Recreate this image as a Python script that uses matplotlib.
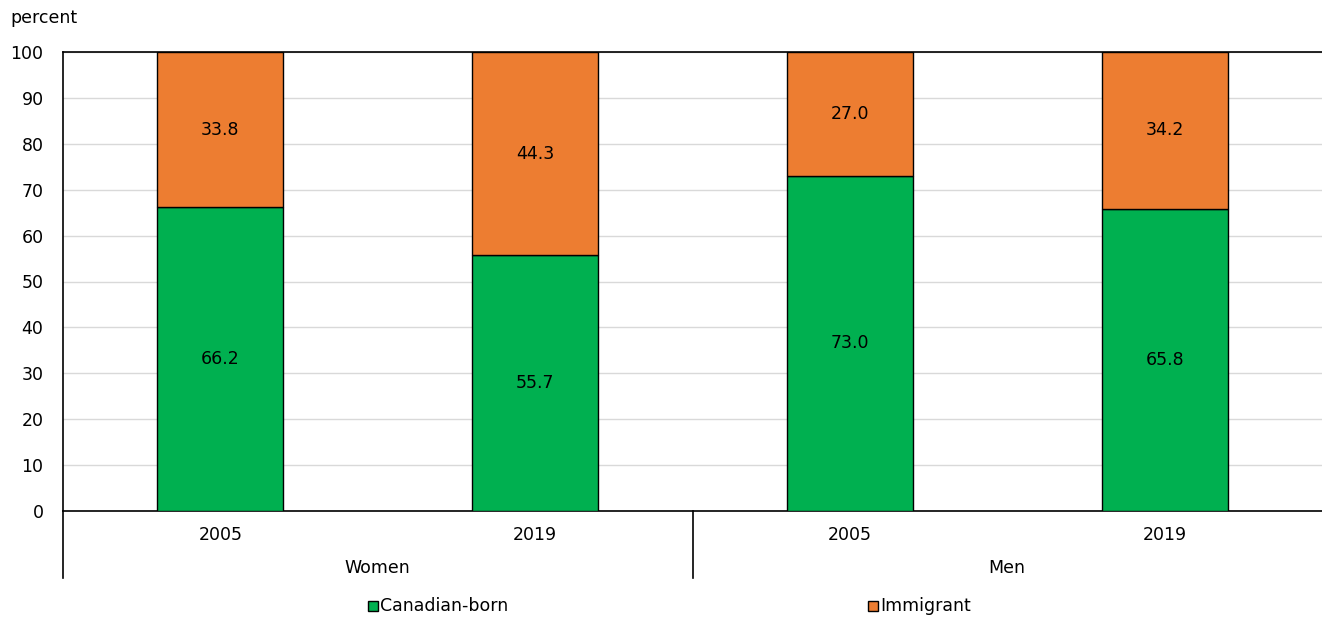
import matplotlib.pyplot as plt
from matplotlib.patches import Rectangle

plt.rcParams['font.family'] = ['DejaVu Sans']

groups = ['Women', 'Men']
years = ['2005', '2019', '2005', '2019']
canadian_born = [66.2, 55.7, 73.0, 65.8]
immigrant = [33.8, 44.3, 27.0, 34.2]

green = '#00b050'
orange = '#ed7d31'
fs = 12.5

fig = plt.figure(figsize=(13.22, 6.17), dpi=100)
ax = fig.add_axes([63 / 1322, 1 - 511 / 617, (1322 - 63) / 1322, (511 - 52) / 617])

x = range(len(years))
ax.bar(x, canadian_born, width=0.4, color=green, edgecolor='black', linewidth=1, zorder=3)
ax.bar(x, immigrant, width=0.4, bottom=canadian_born, color=orange,
       edgecolor='black', linewidth=1, zorder=3)

for i in x:
    ax.text(i, canadian_born[i] / 2, f'{canadian_born[i]:.1f}', ha='center', va='center',
            fontsize=fs, zorder=4)
    ax.text(i, canadian_born[i] + immigrant[i] / 2, f'{immigrant[i]:.1f}', ha='center',
            va='center', fontsize=fs, zorder=4)

ax.set_xlim(-0.5, len(years) - 0.5)
ax.set_ylim(0, 100)
ax.set_yticks(range(0, 101, 10))
ax.tick_params(axis='y', length=0, labelsize=fs, pad=14)
ax.tick_params(axis='x', length=0, labelsize=fs, pad=11)
ax.set_xticks(list(x))
ax.set_xticklabels(years)
ax.grid(axis='y', color='#d9d9d9', linewidth=1, zorder=0)

ax.spines['right'].set_visible(False)
for side in ['top', 'bottom', 'left']:
    ax.spines[side].set_color('black')
    ax.spines[side].set_linewidth(1.2)

# group separators and labels below the year ticks
trans = ax.get_xaxis_transform()
for xs in [-0.5, 1.5]:
    ax.plot([xs, xs], [0, -0.146], transform=trans, color='black', lw=1.2, clip_on=False)
for gi, g in enumerate(groups):
    ax.text(gi * 2 + 0.5, -0.124, g, transform=trans, ha='center', va='center', fontsize=fs)

fig.text(10 / 1322, 1 - 18 / 617, 'percent', ha='left', va='center', fontsize=fs)

# legend
for lx, label, col in [(368, 'Canadian-born', green), (868, 'Immigrant', orange)]:
    fig.patches.append(Rectangle((lx / 1322, 1 - 611 / 617), 10 / 1322, 10 / 617,
                                 transform=fig.transFigure, facecolor=col,
                                 edgecolor='black', linewidth=1))
    fig.text((lx + 12) / 1322, 1 - 606 / 617, label, ha='left', va='center', fontsize=fs)

fig.savefig('out.png', dpi=100)
